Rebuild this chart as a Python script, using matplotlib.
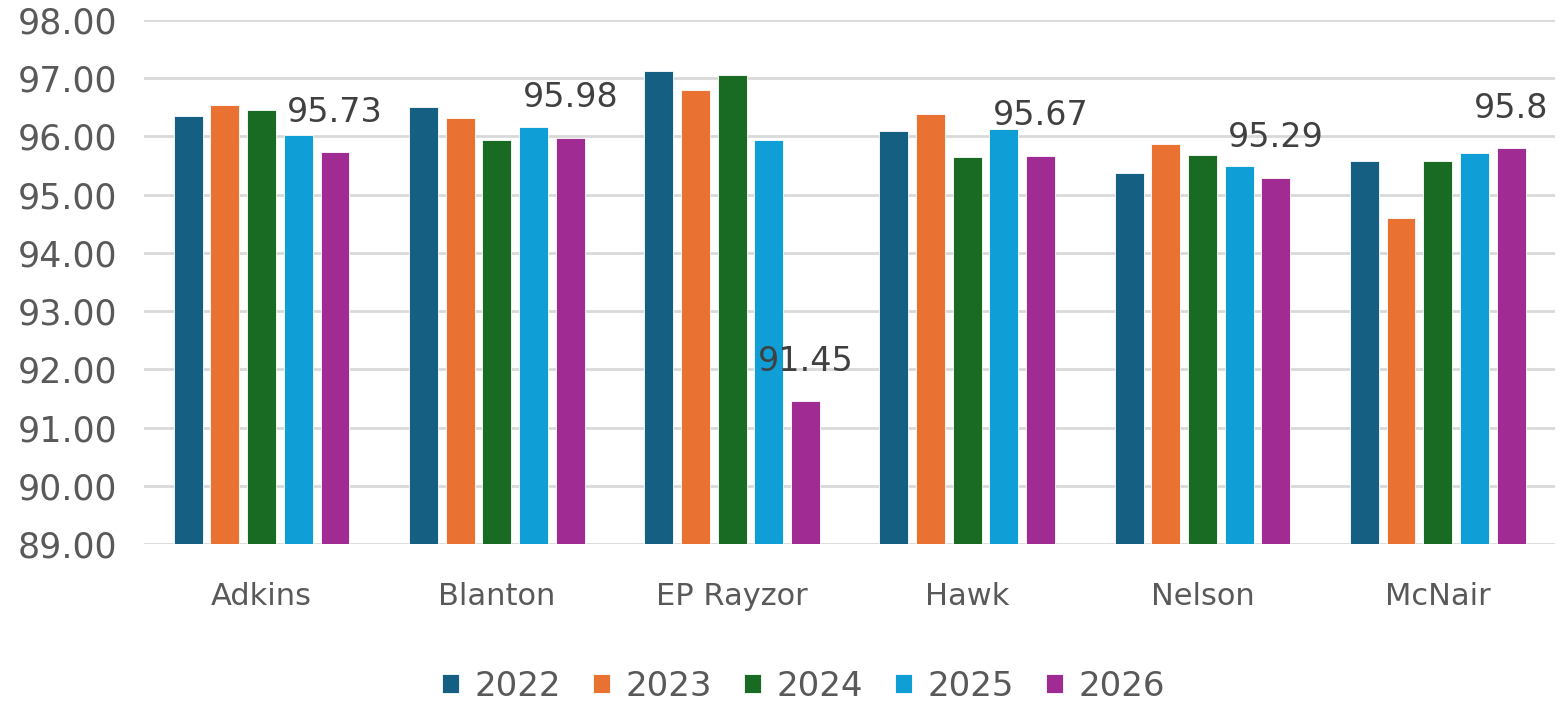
import numpy as np
import matplotlib.pyplot as plt
from matplotlib.patches import Patch
from matplotlib.ticker import FormatStrFormatter

# datos
escuelas = ["Adkins", "Blanton", "EP Rayzor", "Hawk", "Nelson", "McNair"]
anios = ["2022", "2023", "2024", "2025", "2026"]
v2022 = [96.35, 96.50, 97.13, 96.09, 95.38, 95.57]
v2023 = [96.54, 96.31, 96.80, 96.39, 95.87, 94.60]
v2024 = [96.46, 95.94, 97.05, 95.64, 95.68, 95.57]
v2025 = [96.02, 96.16, 95.94, 96.12, 95.49, 95.72]
v2026 = [95.73, 95.98, 91.45, 95.67, 95.29, 95.8]
etiquetas_2026 = ["95.73", "95.98", "91.45", "95.67", "95.29", "95.8"]

series = [v2022, v2023, v2024, v2025, v2026]
colores = ["#156082", "#E97132", "#196B24", "#0F9ED5", "#A02B93"]

plt.rcParams['font.family'] = ['DejaVu Sans']

fig = plt.figure(figsize=(15.6, 7.02), dpi=100)
ax = fig.add_axes([0.0923, 0.225, 0.9047, 0.7465])

x = np.arange(len(escuelas))
paso = 0.156
ancho = 0.123
piso = 89.0

for i, (vals, col) in enumerate(zip(series, colores)):
    pos = x + (i - 2) * paso
    alturas = np.array(vals) - piso
    ax.bar(pos, alturas, width=ancho, bottom=piso, color=col,
           edgecolor="white", linewidth=0.6, zorder=3)

# etiquetas solo para 2026
for xi, v, t in zip(x + 2 * paso, v2026, etiquetas_2026):
    ax.annotate(t, (xi, v), xytext=(0, 22), textcoords="offset points",
                ha="center", va="baseline", fontsize=24, color="#404040",
                zorder=4)

ax.set_xlim(-0.5, len(escuelas) - 0.5)
ax.set_ylim(89, 98)
ax.set_yticks(np.arange(89, 99, 1))
ax.yaxis.set_major_formatter(FormatStrFormatter("%.2f"))
ax.grid(axis="y", color="#d9d9d9", linewidth=2.0, zorder=0)
ax.set_axisbelow(True)
for s in ax.spines.values():
    s.set_visible(False)

ax.set_xticks(x)
ax.set_xticklabels(escuelas)
ax.tick_params(axis="x", length=0, pad=27, labelsize=22, labelcolor="#595959")
ax.tick_params(axis="y", length=0, pad=19, labelsize=25, labelcolor="#595959")

handles = [Patch(facecolor=c, edgecolor="white", linewidth=0.6) for c in colores]
fig.legend(handles, anios, loc="center", bbox_to_anchor=(0.515, 1 - 686 / 702),
           ncol=5, frameon=False, fontsize=24.5, labelcolor="#595959",
           handlelength=0.5, handleheight=0.5, handletextpad=0.45,
           columnspacing=0.95)

fig.savefig("out.png", dpi=100)
